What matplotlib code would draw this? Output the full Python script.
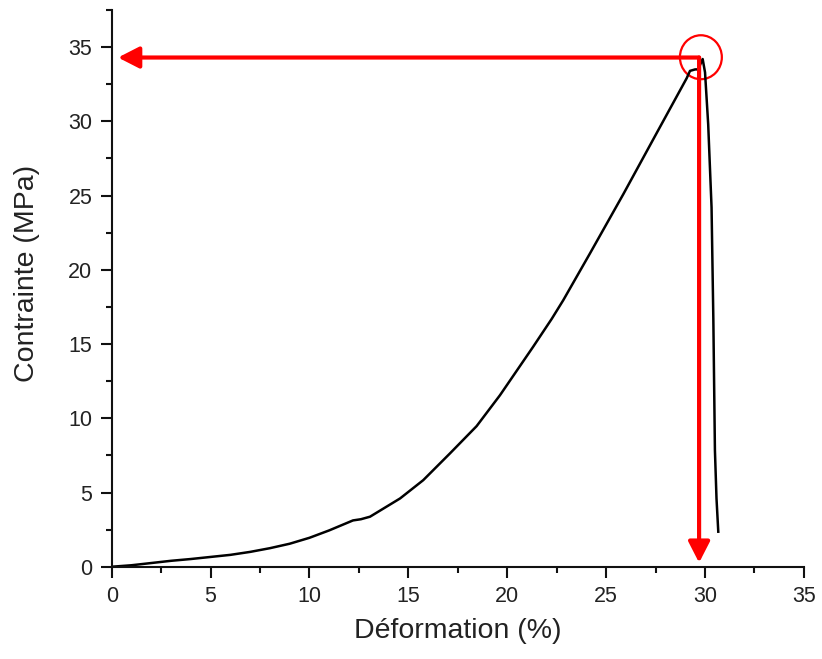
import matplotlib
matplotlib.use("Agg")
import matplotlib.pyplot as plt
from matplotlib.patches import Ellipse
from matplotlib.ticker import MultipleLocator

# Data
strain = [0, 1.0, 2.0, 3.0, 4.0, 5.0, 6.0, 7.0, 8.0, 9.0, 10.0, 11.0, 12.2, 12.6,
          13.06, 14.58, 15.75, 17.1, 18.45, 19.63, 21.3, 22.25, 22.83, 24.18,
          25.87, 27.55, 29.07, 29.24, 29.5, 29.65, 29.88, 30.0, 30.16, 30.33,
          30.42, 30.5, 30.58, 30.67]
stress = [0, 0.1, 0.25, 0.4, 0.52, 0.66, 0.8, 1.0, 1.25, 1.55, 1.95, 2.45, 3.12, 3.2,
          3.37, 4.6, 5.83, 7.63, 9.47, 11.55, 14.8, 16.7, 17.95, 21.1,
          25.1, 29.2, 32.9, 33.4, 33.5, 33.5, 34.2, 33.3, 29.8, 24.2,
          16.7, 7.85, 4.6, 2.36]

peak_strain = 29.7
peak_stress = 34.3
arrow_x_end = 0.32
arrow_y_end = 0.27

xticks = [0, 5, 10, 15, 20, 25, 30, 35]
yticks = [0, 5, 10, 15, 20, 25, 30, 35]

plt.rcParams['font.family'] = ['Liberation Sans', 'DejaVu Sans']

fig = plt.figure(figsize=(8.22, 6.59), dpi=100)
ax = fig.add_axes([0.1359, 0.140, 0.978 - 0.1359, 0.9848 - 0.140])

ax.plot(strain, stress, color='black', lw=1.8, solid_joinstyle='round')

red = '#ff0000'
ax.annotate('', xy=(arrow_x_end, peak_stress), xytext=(peak_strain, peak_stress),
            arrowprops=dict(arrowstyle='-|>,head_length=1.27,head_width=0.65',
                            color=red, lw=3, shrinkA=0, shrinkB=0,
                            mutation_scale=10))
ax.annotate('', xy=(peak_strain, arrow_y_end), xytext=(peak_strain, peak_stress),
            arrowprops=dict(arrowstyle='-|>,head_length=1.27,head_width=0.65',
                            color=red, lw=3, shrinkA=0, shrinkB=0,
                            mutation_scale=10))
ax.add_patch(Ellipse((29.79, 34.32), 2.12, 2.96, fill=False, edgecolor=red, lw=1.6))

ax.set_xlim(0, 35)
ax.set_ylim(0, 37.5)
ax.set_xticks(xticks)
ax.set_yticks(yticks)
ax.xaxis.set_minor_locator(MultipleLocator(2.5))
ax.yaxis.set_minor_locator(MultipleLocator(2.5))

for s in ['top', 'right']:
    ax.spines[s].set_visible(False)
for s in ['left', 'bottom']:
    ax.spines[s].set_linewidth(1.5)
    ax.spines[s].set_color('#111111')

ax.tick_params(which='major', direction='out', length=8, width=1.5,
               color='#111111', labelsize=15.5, labelcolor='#222222', pad=6)
ax.tick_params(which='minor', direction='out', length=4.5, width=1.5, color='#111111')

ax.set_xlabel('Déformation (%)', fontsize=20.5, color='#222222', labelpad=8)
fig.text(27 / 822, 1 - 273 / 659, 'Contrainte (MPa)', rotation=90, fontsize=20.5,
         color='#222222', ha='center', va='center')

fig.savefig('out.png', dpi=100)
